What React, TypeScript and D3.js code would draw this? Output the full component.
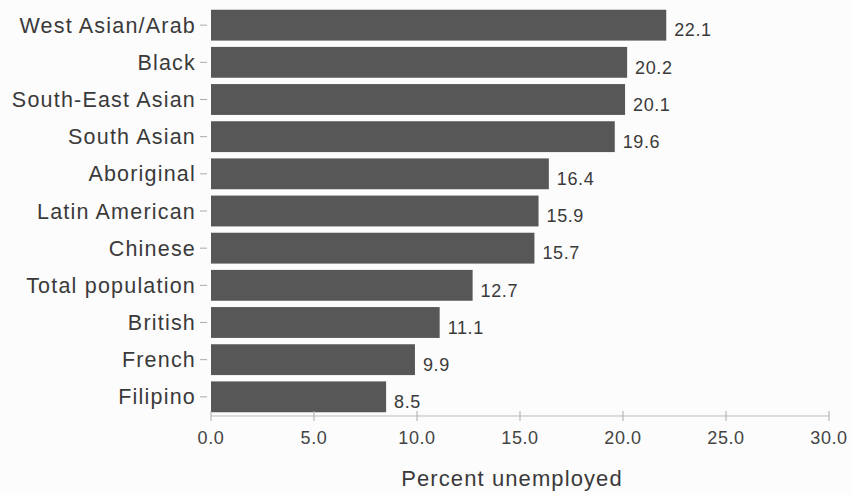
import React from "react";
import * as d3 from "d3";

const categories = [
  "West Asian/Arab",
  "Black",
  "South-East Asian",
  "South Asian",
  "Aboriginal",
  "Latin American",
  "Chinese",
  "Total population",
  "British",
  "French",
  "Filipino",
];
const values = [22.1, 20.2, 20.1, 19.6, 16.4, 15.9, 15.7, 12.7, 11.1, 9.9, 8.5];
const xTicks = [0, 5, 10, 15, 20, 25, 30];
const xTitle = "Percent unemployed";

const W = 852;
const H = 495;

export default function App() {
  const x = d3.scaleLinear().domain([0, 30]).range([211, 829]);
  const y = d3.scaleBand<string>().domain(categories).range([9, 413]).paddingInner(0.17).paddingOuter(0.02);
  const axisY = 416;
  const font = "Liberation Sans, Arial, Helvetica, sans-serif";
  return (
    <svg width={W} height={H} style={{ position: "absolute", left: 0, top: 0, background: "#fcfcfc" }} fontFamily={font}>
      <rect x={0} y={0} width={W} height={H} fill="#fcfcfc" />
      {categories.map((c, i) => {
        const y0 = y(c)!;
        const bh = y.bandwidth();
        return (
          <g key={c}>
            <rect x={x(0)} y={y0} width={x(values[i]) - x(0)} height={bh} fill="#585757" />
            <line x1={x(0) - 11} x2={x(0) - 4} y1={y0 + bh / 2} y2={y0 + bh / 2} stroke="#aaa" strokeWidth={1} />
            <text x={x(0) - 15} y={y0 + bh / 2} dy="0.35em" textAnchor="end" fontSize={21.5} letterSpacing={1.2} fill="#3a3a3a">
              {c}
            </text>
            <text x={x(values[i]) + 8} y={y0 + bh / 2 + 5} dy="0.35em" textAnchor="start" fontSize={18} letterSpacing={0.6} fill="#3a3a3a">
              {values[i].toFixed(1)}
            </text>
          </g>
        );
      })}
      <line x1={x(0)} x2={x(30)} y1={axisY} y2={axisY} stroke="#bbb" strokeWidth={1} />
      {xTicks.map((t) => (
        <g key={t}>
          <line x1={x(t)} x2={x(t)} y1={axisY - 5} y2={axisY + 5} stroke="#aaa" strokeWidth={1} />
          <text x={x(t)} y={444} textAnchor="middle" fontSize={18} letterSpacing={0.6} fill="#444">
            {t.toFixed(1)}
          </text>
        </g>
      ))}
      <text x={512} y={486} textAnchor="middle" fontSize={22} letterSpacing={1.1} fill="#3a3a3a">
        {xTitle}
      </text>
    </svg>
  );
}
